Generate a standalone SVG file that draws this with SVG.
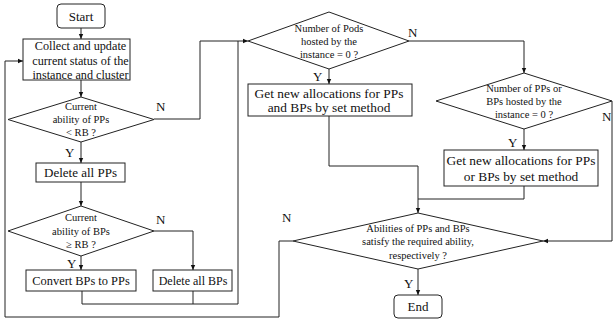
<svg xmlns="http://www.w3.org/2000/svg" width="613" height="322" viewBox="0 0 613 322">
<style>
.s{fill:#fff;stroke:#222;stroke-width:1}
.t{font-family:"Liberation Serif","Times New Roman",serif;fill:#111;text-anchor:middle}
.b{font-size:13px}
.d{font-size:10.5px}
.l{font-family:"Liberation Serif","Times New Roman",serif;fill:#111;font-size:13px}
.c{fill:none;stroke:#222;stroke-width:1}
</style>
<defs>
<marker id="a" markerWidth="6" markerHeight="6" refX="5" refY="3" orient="auto" markerUnits="userSpaceOnUse">
<path d="M0,0.8 L5,3 L0,5.2 Z" fill="#111"/>
</marker>
</defs>
<g id="connectors">
<path class="c" d="M81,28 V39" marker-end="url(#a)"/>
<path class="c" d="M81,80 V97" marker-end="url(#a)"/>
<path class="c" d="M81,142 V163" marker-end="url(#a)"/>
<path class="c" d="M81,182 V206" marker-end="url(#a)"/>
<path class="c" d="M81,256 V270" marker-end="url(#a)"/>
<path class="c" d="M154,231 H193 V270" marker-end="url(#a)"/>
<path class="c" d="M82,291 V304 H238 V41"/>
<path class="c" d="M193,291 V304"/>
<path class="c" d="M154,119 H200 V41 H248" marker-end="url(#a)"/>
<path class="c" d="M329,69 V84" marker-end="url(#a)"/>
<path class="c" d="M409,41 H524 V73" marker-end="url(#a)"/>
<path class="c" d="M524,129 V150" marker-end="url(#a)"/>
<path class="c" d="M612,101 V241 H543" marker-end="url(#a)"/>
<path class="c" d="M329,116 V166 H418 V213" marker-end="url(#a)"/>
<path class="c" d="M524,186 V199 H418"/>
<path class="c" d="M418,269 V295" marker-end="url(#a)"/>
<path class="c" d="M293,241 H279 V317 H5 V61 H23" marker-end="url(#a)"/>
<text class="l" x="156" y="111">N</text>
<text class="l" x="65" y="157">Y</text>
<text class="l" x="156" y="224">N</text>
<text class="l" x="67" y="268">Y</text>
<text class="l" x="408" y="37">N</text>
<text class="l" x="313" y="81">Y</text>
<text class="l" x="602" y="121">N</text>
<text class="l" x="508" y="147">Y</text>
<text class="l" x="282" y="222">N</text>
<text class="l" x="404" y="288">Y</text>
</g>
<g id="start">
<rect class="s" x="57" y="4" width="48" height="24" rx="4"/>
<text class="t b" x="81" y="21">Start</text>
</g>
<g id="collect">
<rect class="s" x="23" y="39" width="107" height="41"/>
<text class="t" font-size="12.2" x="80.5" y="50">Collect and update</text>
<text class="t" font-size="12.2" x="80.5" y="65">current status of the</text>
<text class="t" font-size="12.2" x="80.5" y="79">instance and cluster</text>
</g>
<g id="check-pps">
<polygon class="s" points="81,97 154,119.5 81,142 8,119.5"/>
<text class="t d" x="81" y="110">Current</text>
<text class="t d" x="81" y="123">ability of PPs</text>
<text class="t d" x="81" y="136">&lt; RB ?</text>
</g>
<g id="delete-pps">
<rect class="s" x="36" y="163" width="89" height="19"/>
<text class="t b" x="80.5" y="177">Delete all PPs</text>
</g>
<g id="check-bps">
<polygon class="s" points="81,206 154,231 81,256 8,231"/>
<text class="t d" x="81" y="221">Current</text>
<text class="t d" x="81" y="235">ability of BPs</text>
<text class="t d" x="81" y="248">≥ RB ?</text>
</g>
<g id="convert">
<rect class="s" x="26" y="270" width="110" height="21"/>
<text class="t" font-size="12.4" x="81" y="285">Convert BPs to PPs</text>
</g>
<g id="delete-bps">
<rect class="s" x="153" y="270" width="79" height="21"/>
<text class="t" font-size="12" x="193" y="285">Delete all BPs</text>
</g>
<g id="check-pods">
<polygon class="s" points="329,12 409,41 329,69 248,41"/>
<text class="t d" x="329" y="32">Number of Pods</text>
<text class="t d" x="329" y="45">hosted by the</text>
<text class="t d" x="329" y="58">instance = 0 ?</text>
</g>
<g id="alloc-and">
<rect class="s" x="248" y="84" width="164" height="32"/>
<text class="t" font-size="13.4" x="329" y="98">Get new allocations for PPs</text>
<text class="t" font-size="13.4" x="329" y="112">and BPs by set method</text>
</g>
<g id="check-pps-bps">
<polygon class="s" points="524,73 612,101 524,129 436,101"/>
<text class="t d" x="524" y="92">Number of PPs or</text>
<text class="t d" x="524" y="105">BPs hosted by the</text>
<text class="t d" x="524" y="118">instance = 0 ?</text>
</g>
<g id="alloc-or">
<rect class="s" x="444" y="150" width="154" height="36"/>
<text class="t" font-size="13.4" x="521" y="165">Get new allocations for PPs</text>
<text class="t" font-size="13.4" x="521" y="181">or BPs by set method</text>
</g>
<g id="check-ability">
<polygon class="s" points="418,213 543,241 418,269 293,241"/>
<text class="t d" x="418" y="232">Abilities of PPs and BPs</text>
<text class="t d" x="418" y="245">satisfy the required ability,</text>
<text class="t d" x="418" y="259">respectively ?</text>
</g>
<g id="end">
<rect class="s" x="394" y="295" width="48" height="23" rx="4"/>
<text class="t b" x="418" y="311">End</text>
</g>
</svg>
